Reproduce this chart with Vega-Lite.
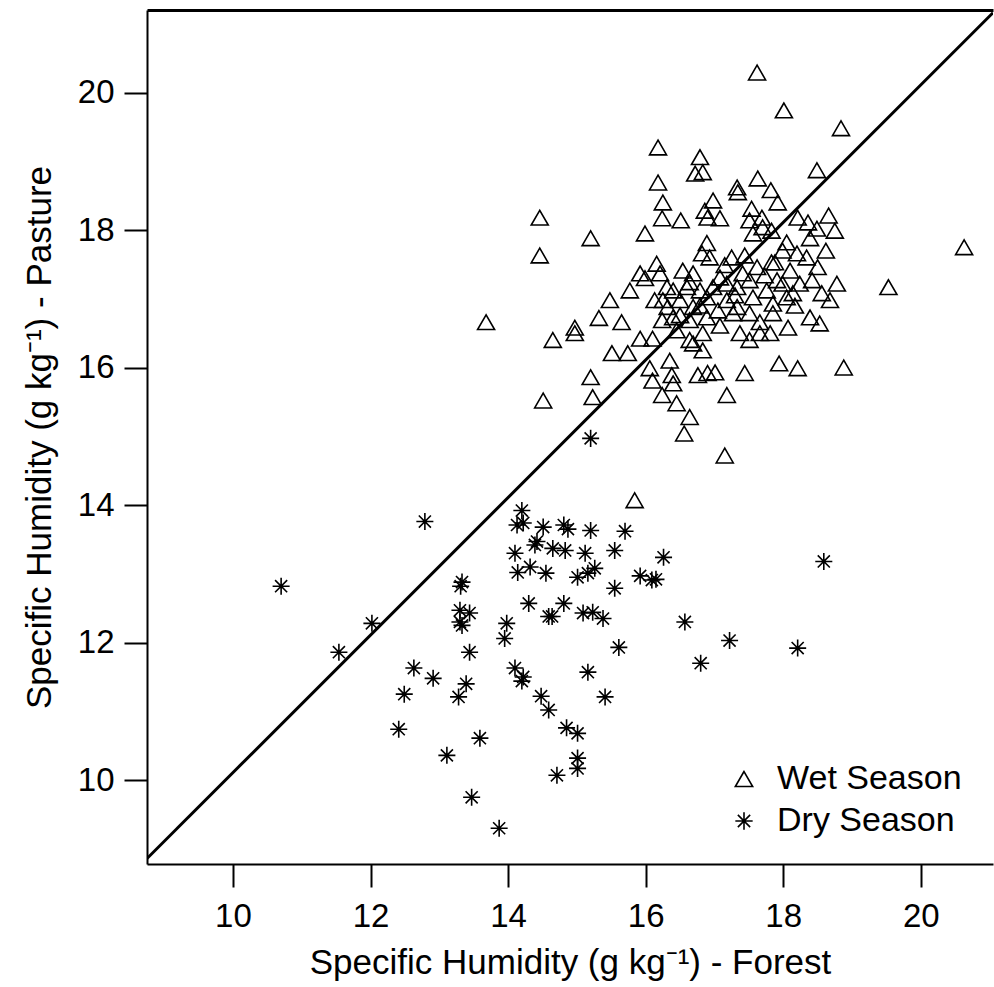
{
  "$schema": "https://vega.github.io/schema/vega-lite/v6.json",
  "width": 846,
  "height": 854,
  "autosize": {"type": "none"},
  "padding": {"left": 147, "top": 10, "right": 1, "bottom": 123},
  "background": "white",
  "config": {
    "view": {"stroke": null},
    "font": "Liberation Sans",
    "axis": {
      "grid": false,
      "domainColor": "black",
      "domainWidth": 2,
      "tickColor": "black",
      "tickWidth": 2,
      "tickSize": 23,
      "labelColor": "black",
      "labelFont": "Liberation Sans",
      "labelFontSize": 33,
      "titleColor": "black",
      "titleFont": "Liberation Sans",
      "titleFontSize": 35,
      "titleFontWeight": "normal"
    }
  },
  "datasets": {
    "pts": [
      {"forest": 17.62, "pasture": 20.29, "season": "Wet Season"},
      {"forest": 18.01, "pasture": 19.74, "season": "Wet Season"},
      {"forest": 18.84, "pasture": 19.48, "season": "Wet Season"},
      {"forest": 16.18, "pasture": 19.20, "season": "Wet Season"},
      {"forest": 16.79, "pasture": 19.06, "season": "Wet Season"},
      {"forest": 16.72, "pasture": 18.82, "season": "Wet Season"},
      {"forest": 16.83, "pasture": 18.84, "season": "Wet Season"},
      {"forest": 16.18, "pasture": 18.69, "season": "Wet Season"},
      {"forest": 18.49, "pasture": 18.87, "season": "Wet Season"},
      {"forest": 17.63, "pasture": 18.75, "season": "Wet Season"},
      {"forest": 17.33, "pasture": 18.62, "season": "Wet Season"},
      {"forest": 17.34, "pasture": 18.55, "season": "Wet Season"},
      {"forest": 17.82, "pasture": 18.58, "season": "Wet Season"},
      {"forest": 17.92, "pasture": 18.40, "season": "Wet Season"},
      {"forest": 16.25, "pasture": 18.40, "season": "Wet Season"},
      {"forest": 16.24, "pasture": 18.17, "season": "Wet Season"},
      {"forest": 16.51, "pasture": 18.14, "season": "Wet Season"},
      {"forest": 16.98, "pasture": 18.43, "season": "Wet Season"},
      {"forest": 16.86, "pasture": 18.28, "season": "Wet Season"},
      {"forest": 16.90, "pasture": 18.18, "season": "Wet Season"},
      {"forest": 17.08, "pasture": 18.17, "season": "Wet Season"},
      {"forest": 14.46, "pasture": 18.18, "season": "Wet Season"},
      {"forest": 17.54, "pasture": 18.31, "season": "Wet Season"},
      {"forest": 17.51, "pasture": 18.14, "season": "Wet Season"},
      {"forest": 17.69, "pasture": 18.18, "season": "Wet Season"},
      {"forest": 17.70, "pasture": 18.04, "season": "Wet Season"},
      {"forest": 18.21, "pasture": 18.18, "season": "Wet Season"},
      {"forest": 18.36, "pasture": 18.11, "season": "Wet Season"},
      {"forest": 18.66, "pasture": 18.21, "season": "Wet Season"},
      {"forest": 18.49, "pasture": 18.02, "season": "Wet Season"},
      {"forest": 18.75, "pasture": 17.99, "season": "Wet Season"},
      {"forest": 15.99, "pasture": 17.95, "season": "Wet Season"},
      {"forest": 15.20, "pasture": 17.88, "season": "Wet Season"},
      {"forest": 14.46, "pasture": 17.63, "season": "Wet Season"},
      {"forest": 17.56, "pasture": 17.95, "season": "Wet Season"},
      {"forest": 17.83, "pasture": 17.99, "season": "Wet Season"},
      {"forest": 18.05, "pasture": 17.82, "season": "Wet Season"},
      {"forest": 18.39, "pasture": 17.88, "season": "Wet Season"},
      {"forest": 16.89, "pasture": 17.81, "season": "Wet Season"},
      {"forest": 16.82, "pasture": 17.66, "season": "Wet Season"},
      {"forest": 16.93, "pasture": 17.60, "season": "Wet Season"},
      {"forest": 17.25, "pasture": 17.60, "season": "Wet Season"},
      {"forest": 17.62, "pasture": 17.46, "season": "Wet Season"},
      {"forest": 17.83, "pasture": 17.53, "season": "Wet Season"},
      {"forest": 17.99, "pasture": 17.70, "season": "Wet Season"},
      {"forest": 18.20, "pasture": 17.66, "season": "Wet Season"},
      {"forest": 18.34, "pasture": 17.60, "season": "Wet Season"},
      {"forest": 18.50, "pasture": 17.46, "season": "Wet Season"},
      {"forest": 18.78, "pasture": 17.22, "season": "Wet Season"},
      {"forest": 18.56, "pasture": 17.08, "season": "Wet Season"},
      {"forest": 19.53, "pasture": 17.17, "season": "Wet Season"},
      {"forest": 20.63, "pasture": 17.75, "season": "Wet Season"},
      {"forest": 15.92, "pasture": 17.37, "season": "Wet Season"},
      {"forest": 15.99, "pasture": 17.30, "season": "Wet Season"},
      {"forest": 16.16, "pasture": 17.51, "season": "Wet Season"},
      {"forest": 16.21, "pasture": 17.37, "season": "Wet Season"},
      {"forest": 16.54, "pasture": 17.41, "season": "Wet Season"},
      {"forest": 16.69, "pasture": 17.37, "season": "Wet Season"},
      {"forest": 17.08, "pasture": 17.31, "season": "Wet Season"},
      {"forest": 17.41, "pasture": 17.37, "season": "Wet Season"},
      {"forest": 16.31, "pasture": 17.17, "season": "Wet Season"},
      {"forest": 16.40, "pasture": 17.12, "season": "Wet Season"},
      {"forest": 16.60, "pasture": 17.17, "season": "Wet Season"},
      {"forest": 16.79, "pasture": 17.12, "season": "Wet Season"},
      {"forest": 16.98, "pasture": 17.17, "season": "Wet Season"},
      {"forest": 17.18, "pasture": 17.22, "season": "Wet Season"},
      {"forest": 17.33, "pasture": 17.17, "season": "Wet Season"},
      {"forest": 17.51, "pasture": 17.27, "season": "Wet Season"},
      {"forest": 17.76, "pasture": 17.12, "season": "Wet Season"},
      {"forest": 17.91, "pasture": 17.27, "season": "Wet Season"},
      {"forest": 17.99, "pasture": 17.22, "season": "Wet Season"},
      {"forest": 18.14, "pasture": 17.08, "season": "Wet Season"},
      {"forest": 18.24, "pasture": 17.22, "season": "Wet Season"},
      {"forest": 17.56, "pasture": 17.02, "season": "Wet Season"},
      {"forest": 16.89, "pasture": 17.02, "season": "Wet Season"},
      {"forest": 16.25, "pasture": 16.98, "season": "Wet Season"},
      {"forest": 16.32, "pasture": 16.88, "season": "Wet Season"},
      {"forest": 16.50, "pasture": 16.98, "season": "Wet Season"},
      {"forest": 16.69, "pasture": 16.88, "season": "Wet Season"},
      {"forest": 17.05, "pasture": 16.83, "season": "Wet Season"},
      {"forest": 17.18, "pasture": 16.98, "season": "Wet Season"},
      {"forest": 17.33, "pasture": 16.88, "season": "Wet Season"},
      {"forest": 17.85, "pasture": 16.93, "season": "Wet Season"},
      {"forest": 18.05, "pasture": 17.02, "season": "Wet Season"},
      {"forest": 15.48, "pasture": 16.98, "season": "Wet Season"},
      {"forest": 16.24, "pasture": 16.69, "season": "Wet Season"},
      {"forest": 16.40, "pasture": 16.73, "season": "Wet Season"},
      {"forest": 16.64, "pasture": 16.69, "season": "Wet Season"},
      {"forest": 16.89, "pasture": 16.73, "season": "Wet Season"},
      {"forest": 17.27, "pasture": 16.79, "season": "Wet Season"},
      {"forest": 17.51, "pasture": 16.79, "season": "Wet Season"},
      {"forest": 17.85, "pasture": 16.79, "season": "Wet Season"},
      {"forest": 18.07, "pasture": 16.58, "season": "Wet Season"},
      {"forest": 18.39, "pasture": 16.73, "season": "Wet Season"},
      {"forest": 18.53, "pasture": 16.64, "season": "Wet Season"},
      {"forest": 13.68, "pasture": 16.66, "season": "Wet Season"},
      {"forest": 15.32, "pasture": 16.72, "season": "Wet Season"},
      {"forest": 15.65, "pasture": 16.66, "season": "Wet Season"},
      {"forest": 14.97, "pasture": 16.58, "season": "Wet Season"},
      {"forest": 14.97, "pasture": 16.50, "season": "Wet Season"},
      {"forest": 14.65, "pasture": 16.40, "season": "Wet Season"},
      {"forest": 15.92, "pasture": 16.42, "season": "Wet Season"},
      {"forest": 16.10, "pasture": 16.42, "season": "Wet Season"},
      {"forest": 16.45, "pasture": 16.54, "season": "Wet Season"},
      {"forest": 16.64, "pasture": 16.40, "season": "Wet Season"},
      {"forest": 16.83, "pasture": 16.50, "season": "Wet Season"},
      {"forest": 17.37, "pasture": 16.50, "season": "Wet Season"},
      {"forest": 17.51, "pasture": 16.40, "season": "Wet Season"},
      {"forest": 17.66, "pasture": 16.50, "season": "Wet Season"},
      {"forest": 17.81, "pasture": 16.50, "season": "Wet Season"},
      {"forest": 15.51, "pasture": 16.21, "season": "Wet Season"},
      {"forest": 15.74, "pasture": 16.21, "season": "Wet Season"},
      {"forest": 16.69, "pasture": 16.35, "season": "Wet Season"},
      {"forest": 16.83, "pasture": 16.25, "season": "Wet Season"},
      {"forest": 16.06, "pasture": 15.99, "season": "Wet Season"},
      {"forest": 16.35, "pasture": 16.10, "season": "Wet Season"},
      {"forest": 16.10, "pasture": 15.81, "season": "Wet Season"},
      {"forest": 16.38, "pasture": 15.89, "season": "Wet Season"},
      {"forest": 16.40, "pasture": 15.77, "season": "Wet Season"},
      {"forest": 16.76, "pasture": 15.89, "season": "Wet Season"},
      {"forest": 16.90, "pasture": 15.92, "season": "Wet Season"},
      {"forest": 17.01, "pasture": 15.93, "season": "Wet Season"},
      {"forest": 17.44, "pasture": 15.92, "season": "Wet Season"},
      {"forest": 17.94, "pasture": 16.06, "season": "Wet Season"},
      {"forest": 18.21, "pasture": 15.99, "season": "Wet Season"},
      {"forest": 18.88, "pasture": 16.00, "season": "Wet Season"},
      {"forest": 15.20, "pasture": 15.86, "season": "Wet Season"},
      {"forest": 15.23, "pasture": 15.57, "season": "Wet Season"},
      {"forest": 14.51, "pasture": 15.52, "season": "Wet Season"},
      {"forest": 16.24, "pasture": 15.60, "season": "Wet Season"},
      {"forest": 16.45, "pasture": 15.48, "season": "Wet Season"},
      {"forest": 17.18, "pasture": 15.60, "season": "Wet Season"},
      {"forest": 16.64, "pasture": 15.28, "season": "Wet Season"},
      {"forest": 16.56, "pasture": 15.04, "season": "Wet Season"},
      {"forest": 17.15, "pasture": 14.72, "season": "Wet Season"},
      {"forest": 15.84, "pasture": 14.07, "season": "Wet Season"},
      {"forest": 17.15, "pasture": 17.49, "season": "Wet Season"},
      {"forest": 17.44, "pasture": 17.63, "season": "Wet Season"},
      {"forest": 17.73, "pasture": 17.34, "season": "Wet Season"},
      {"forest": 17.30, "pasture": 17.05, "season": "Wet Season"},
      {"forest": 16.79, "pasture": 16.90, "season": "Wet Season"},
      {"forest": 17.66, "pasture": 16.66, "season": "Wet Season"},
      {"forest": 18.17, "pasture": 16.90, "season": "Wet Season"},
      {"forest": 17.08, "pasture": 16.61, "season": "Wet Season"},
      {"forest": 16.50, "pasture": 16.76, "season": "Wet Season"},
      {"forest": 18.10, "pasture": 17.41, "season": "Wet Season"},
      {"forest": 18.42, "pasture": 17.27, "season": "Wet Season"},
      {"forest": 18.62, "pasture": 17.70, "season": "Wet Season"},
      {"forest": 16.64, "pasture": 17.24, "season": "Wet Season"},
      {"forest": 17.88, "pasture": 17.53, "season": "Wet Season"},
      {"forest": 16.13, "pasture": 16.98, "season": "Wet Season"},
      {"forest": 15.77, "pasture": 17.12, "season": "Wet Season"},
      {"forest": 18.68, "pasture": 16.98, "season": "Wet Season"},
      {"forest": 15.20, "pasture": 14.97, "season": "Dry Season"},
      {"forest": 12.79, "pasture": 13.76, "season": "Dry Season"},
      {"forest": 10.70, "pasture": 12.82, "season": "Dry Season"},
      {"forest": 12.02, "pasture": 12.28, "season": "Dry Season"},
      {"forest": 11.54, "pasture": 11.86, "season": "Dry Season"},
      {"forest": 14.20, "pasture": 13.92, "season": "Dry Season"},
      {"forest": 14.13, "pasture": 13.71, "season": "Dry Season"},
      {"forest": 14.22, "pasture": 13.74, "season": "Dry Season"},
      {"forest": 14.51, "pasture": 13.68, "season": "Dry Season"},
      {"forest": 14.42, "pasture": 13.47, "season": "Dry Season"},
      {"forest": 14.39, "pasture": 13.42, "season": "Dry Season"},
      {"forest": 14.10, "pasture": 13.30, "season": "Dry Season"},
      {"forest": 14.32, "pasture": 13.10, "season": "Dry Season"},
      {"forest": 14.14, "pasture": 13.02, "season": "Dry Season"},
      {"forest": 14.55, "pasture": 13.01, "season": "Dry Season"},
      {"forest": 13.33, "pasture": 12.88, "season": "Dry Season"},
      {"forest": 13.31, "pasture": 12.82, "season": "Dry Season"},
      {"forest": 13.30, "pasture": 12.47, "season": "Dry Season"},
      {"forest": 13.44, "pasture": 12.43, "season": "Dry Season"},
      {"forest": 13.30, "pasture": 12.30, "season": "Dry Season"},
      {"forest": 13.33, "pasture": 12.25, "season": "Dry Season"},
      {"forest": 14.30, "pasture": 12.57, "season": "Dry Season"},
      {"forest": 14.59, "pasture": 12.38, "season": "Dry Season"},
      {"forest": 13.98, "pasture": 12.28, "season": "Dry Season"},
      {"forest": 13.95, "pasture": 12.06, "season": "Dry Season"},
      {"forest": 13.44, "pasture": 11.86, "season": "Dry Season"},
      {"forest": 12.63, "pasture": 11.63, "season": "Dry Season"},
      {"forest": 12.91, "pasture": 11.48, "season": "Dry Season"},
      {"forest": 14.10, "pasture": 11.63, "season": "Dry Season"},
      {"forest": 14.22, "pasture": 11.50, "season": "Dry Season"},
      {"forest": 14.20, "pasture": 11.44, "season": "Dry Season"},
      {"forest": 13.39, "pasture": 11.40, "season": "Dry Season"},
      {"forest": 12.49, "pasture": 11.25, "season": "Dry Season"},
      {"forest": 13.28, "pasture": 11.21, "season": "Dry Season"},
      {"forest": 14.48, "pasture": 11.22, "season": "Dry Season"},
      {"forest": 14.81, "pasture": 13.71, "season": "Dry Season"},
      {"forest": 14.87, "pasture": 13.65, "season": "Dry Season"},
      {"forest": 15.20, "pasture": 13.63, "season": "Dry Season"},
      {"forest": 15.70, "pasture": 13.62, "season": "Dry Season"},
      {"forest": 14.65, "pasture": 13.37, "season": "Dry Season"},
      {"forest": 14.83, "pasture": 13.34, "season": "Dry Season"},
      {"forest": 15.12, "pasture": 13.30, "season": "Dry Season"},
      {"forest": 15.55, "pasture": 13.34, "season": "Dry Season"},
      {"forest": 16.26, "pasture": 13.24, "season": "Dry Season"},
      {"forest": 15.26, "pasture": 13.08, "season": "Dry Season"},
      {"forest": 15.16, "pasture": 13.01, "season": "Dry Season"},
      {"forest": 15.01, "pasture": 12.95, "season": "Dry Season"},
      {"forest": 15.92, "pasture": 12.97, "season": "Dry Season"},
      {"forest": 16.09, "pasture": 12.91, "season": "Dry Season"},
      {"forest": 16.15, "pasture": 12.92, "season": "Dry Season"},
      {"forest": 15.55, "pasture": 12.79, "season": "Dry Season"},
      {"forest": 18.59, "pasture": 13.18, "season": "Dry Season"},
      {"forest": 14.81, "pasture": 12.57, "season": "Dry Season"},
      {"forest": 14.64, "pasture": 12.38, "season": "Dry Season"},
      {"forest": 15.09, "pasture": 12.43, "season": "Dry Season"},
      {"forest": 15.23, "pasture": 12.44, "season": "Dry Season"},
      {"forest": 15.38, "pasture": 12.35, "season": "Dry Season"},
      {"forest": 16.57, "pasture": 12.30, "season": "Dry Season"},
      {"forest": 17.22, "pasture": 12.03, "season": "Dry Season"},
      {"forest": 18.21, "pasture": 11.92, "season": "Dry Season"},
      {"forest": 15.61, "pasture": 11.93, "season": "Dry Season"},
      {"forest": 16.80, "pasture": 11.70, "season": "Dry Season"},
      {"forest": 15.16, "pasture": 11.57, "season": "Dry Season"},
      {"forest": 15.41, "pasture": 11.21, "season": "Dry Season"},
      {"forest": 14.59, "pasture": 11.02, "season": "Dry Season"},
      {"forest": 12.41, "pasture": 10.74, "season": "Dry Season"},
      {"forest": 13.59, "pasture": 10.61, "season": "Dry Season"},
      {"forest": 14.85, "pasture": 10.76, "season": "Dry Season"},
      {"forest": 15.01, "pasture": 10.68, "season": "Dry Season"},
      {"forest": 13.11, "pasture": 10.36, "season": "Dry Season"},
      {"forest": 15.01, "pasture": 10.32, "season": "Dry Season"},
      {"forest": 15.01, "pasture": 10.17, "season": "Dry Season"},
      {"forest": 14.71, "pasture": 10.07, "season": "Dry Season"},
      {"forest": 13.47, "pasture": 9.75, "season": "Dry Season"},
      {"forest": 13.87, "pasture": 9.30, "season": "Dry Season"}
    ],
    "oneone": [
      {"forest": 8.75, "pasture": 8.86},
      {"forest": 21.05, "pasture": 21.16}
    ]
  },
  "layer": [
    {
      "data": {"name": "oneone"},
      "mark": {"type": "line", "color": "black", "strokeWidth": 3, "clip": true},
      "encoding": {
        "x": {
          "field": "forest",
          "type": "quantitative",
          "scale": {"domain": [8.75, 21.05], "nice": false, "zero": false},
          "axis": {"orient": "top", "labels": false, "ticks": false, "title": null, "domainWidth": 3}
        },
        "y": {
          "field": "pasture",
          "type": "quantitative",
          "scale": {"domain": [8.78, 21.2], "nice": false, "zero": false}
        }
      }
    },
    {
      "data": {"name": "pts"},
      "mark": {"type": "point", "filled": false, "strokeWidth": 1.6, "opacity": 1, "size": 290, "clip": true},
      "encoding": {
        "x": {
          "field": "forest",
          "type": "quantitative",
          "axis": {
            "orient": "bottom",
            "values": [10, 12, 14, 16, 18, 20],
            "format": "d",
            "title": "Specific Humidity (g kg⁻¹) - Forest",
            "labelPadding": 13,
            "titlePadding": 12
          }
        },
        "y": {
          "field": "pasture",
          "type": "quantitative",
          "axis": {
            "values": [10, 12, 14, 16, 18, 20],
            "format": "d",
            "title": "Specific Humidity (g kg⁻¹) - Pasture",
            "labelPadding": 10,
            "titlePadding": 20
          }
        },
        "shape": {
          "field": "season",
          "type": "nominal",
          "scale": {
            "domain": ["Wet Season", "Dry Season"],
            "range": ["triangle-up", "M-1,0H1M0,-1V1M-0.71,-0.71L0.71,0.71M-0.71,0.71L0.71,-0.71"]
          },
          "legend": {
            "orient": "none",
            "legendX": 580,
            "legendY": 752,
            "title": null,
            "padding": 0,
            "labelFontSize": 34,
            "labelFont": "Liberation Sans",
            "labelColor": "black",
            "labelLimit": 400,
            "labelOffset": 16,
            "rowPadding": 8,
            "symbolSize": 300,
            "symbolStrokeWidth": 1.6,
            "symbolStrokeColor": "black",
            "symbolFillColor": "transparent"
          }
        },
        "color": {"value": "black"}
      }
    }
  ],
  "resolve": {"axis": {"x": "independent"}}
}
